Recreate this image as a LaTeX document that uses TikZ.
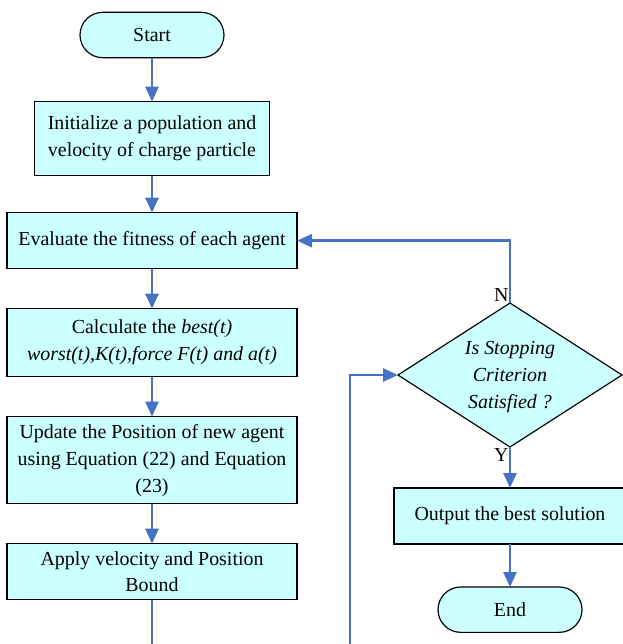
\documentclass[tikz,border=0pt]{standalone}
\usepackage{fontspec}
\setmainfont{Liberation Serif}
\usepackage{tikz}
\usetikzlibrary{arrows.meta,positioning,shapes.geometric}
\definecolor{boxfill}{HTML}{CCFFFF}
\definecolor{pilblue}{HTML}{4472C4}
\tikzset{
    %Define standard arrow tip
    >={Triangle[length=4.5mm,width=3.9mm]},
    %Define style for boxes
    proc/.style={
           rectangle,
           draw=black, line width=1pt,
           fill=boxfill,
           minimum width=87mm,
           inner sep=0pt, outer sep=0pt,
           align=center,
           font=\fontsize{17}{23}\selectfont},
    terminal/.style={
           proc,
           rounded corners=6.8mm,
           minimum width=43.2mm,
           minimum height=13.6mm},
    choice/.style={
           diamond,
           draw=black, line width=1pt,
           fill=boxfill,
           aspect=1.556,
           minimum width=67.2mm,
           minimum height=43.2mm,
           inner sep=0pt, outer sep=0pt,
           align=center,
           font=\fontsize{17}{23}\selectfont\itshape},
    % Define arrow style
    pil/.style={
           ->,
           draw=pilblue,
           line width=0.8mm},
    lbl/.style={
           inner sep=1pt,
           font=\fontsize{17}{20}\selectfont}
}
\begin{document}
\begin{tikzpicture}[x=0.3mm,y=-0.3mm]
\useasboundingbox (0,0) rectangle (623,644);
%Nodes
\node[terminal] (start) at (152,35) {Start};
\node[proc, minimum width=70.5mm, minimum height=22.2mm] (init) [below=13.2mm of start]
  {Initialize a population and\\velocity of charge particle};
\node[proc, minimum height=16.8mm] (eval) [below=11.1mm of init]
  {Evaluate the fitness of each agent};
\node[proc, minimum height=20.4mm] (calc) [below=12mm of eval]
  {Calculate the \textit{best(t)}\\\textit{worst(t),K(t),force F(t) and a(t)}};
\node[proc, minimum height=26.1mm] (update) [below=12mm of calc]
  {Update the Position of new agent\\using Equation (22) and Equation\\(23)};
\node[proc, minimum height=16.8mm] (bound) [below=12mm of update]
  {Apply velocity and Position\\Bound};
\node[choice] (check) at (510,375) {\\[-9pt]Is Stopping\\Criterion\\Satisfied ?};
\node[proc, minimum width=69.6mm, minimum height=16.8mm] (output) [below=12.3mm of check]
  {Output the best solution};
\node[terminal] (finish) [below=12.9mm of output] {End};
\node[lbl, anchor=south east] (nlbl) at (check.north) {N};
\node[lbl, anchor=north east] (ylbl) at (check.south) {Y};
%Free ends at the lower edge
\coordinate (cutL) at (152,644);
\coordinate (cutR) at (350,644);
%Connectors
\draw[pil] (start) -- (init);
\draw[pil] (init) -- (eval);
\draw[pil] (eval) -- (calc);
\draw[pil] (calc) -- (update);
\draw[pil] (update) -- (bound);
\draw[pil, -] (bound) -- (cutL);
\draw[pil] (cutR) |- (check.west);
\draw[pil] (check.north) |- (eval.east);
\draw[pil] (check.south) -- (output.north);
\draw[pil] (output) -- (finish);
\end{tikzpicture}
\end{document}
